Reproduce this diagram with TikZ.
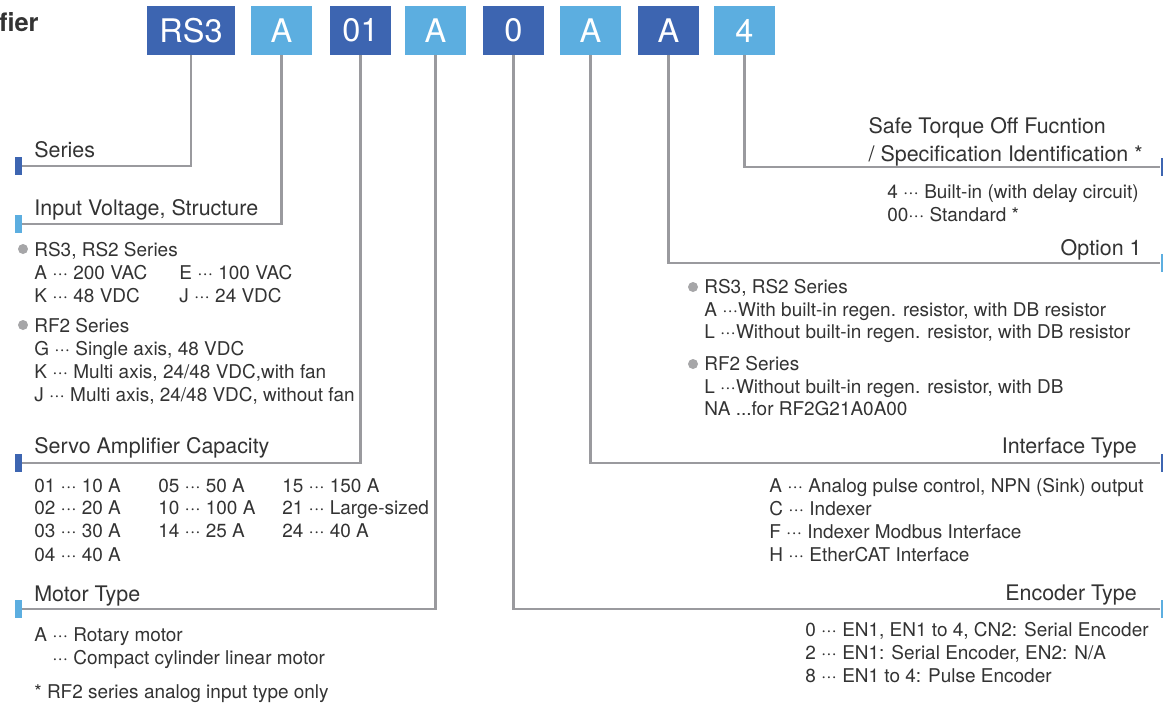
\documentclass[tikz,border=0pt]{standalone}
\usepackage{fontspec}
\setmainfont{TeX Gyre Heros}
\usepackage{xcolor}
\usetikzlibrary{positioning}
\definecolor{codedark}{HTML}{3D65B1}
\definecolor{codelight}{HTML}{5CAEE0}
\definecolor{linegray}{HTML}{9A9A9E}
\definecolor{txtgray}{HTML}{333333}
\definecolor{dotgray}{HTML}{A6A6A8}

\begin{document}
\begin{tikzpicture}[x=0.02cm,y=-0.02cm,
  code/.style={minimum width=1.22cm,minimum height=0.98cm,inner sep=0pt,text=white,font=\fontsize{18.5}{20}\selectfont},
  dk/.style={code,fill=codedark},
  lt/.style={code,fill=codelight},
  tagd/.style={fill=codedark,minimum width=0.14cm,minimum height=0.36cm,inner sep=0pt},
  tagl/.style={tagd,fill=codelight},
  conn/.style={draw=linegray,line width=1.4pt},
  hd/.style={font=\fontsize{12.2}{14}\selectfont,text=txtgray,inner sep=0pt},
  item/.style={font=\fontsize{10.8}{12}\selectfont,text=txtgray,inner sep=0pt,anchor=base west},
  dot/.style={circle,fill=dotgray,minimum size=0.2cm,inner sep=0pt}]
  \fill[white] (0,0) rectangle (1163,711);
  \useasboundingbox (0,0) rectangle (1163,711);
  % title tail
  \node[anchor=base east,inner sep=0pt,font=\fontsize{14.5}{18}\selectfont\bfseries,text=txtgray] (ttl) at (39,31) {fier};
  % code boxes
  \node[dk,minimum width=1.76cm] (rs) at (191,30.5) {RS3};
  \node[lt] (volt) at (281.5,30.5) {A};
  \node[dk] (cap) at (360.5,30.5) {01};
  \node[lt] (mot) at (435.5,30.5) {A};
  \node[dk] (enc) at (513.5,30.5) {0};
  \node[lt] (ifc) at (590.5,30.5) {A};
  \node[dk] (opt) at (668.5,30.5) {A};
  \node[lt] (sto) at (744.5,30.5) {4};
  % end tags
  \node[tagd] (tSer) at (18.5,166) {};
  \node[tagl] (tVolt) at (18.5,224) {};
  \node[tagd] (tCap) at (18.5,463) {};
  \node[tagl] (tMot) at (18.5,609) {};
  \node[tagd] (tSto) at (1164,167) {};
  \node[tagl] (tOpt) at (1164,263) {};
  \node[tagd] (tIfc) at (1164,463) {};
  \node[tagl] (tEnc) at (1164,609) {};
  \draw[conn] (rs.south) |- (tSer.east);
  \draw[conn] (volt.south) |- (tVolt.east);
  \draw[conn] (cap.south) |- (tCap.east);
  \draw[conn] (mot.south) |- (tMot.east);
  \draw[conn] (enc.south) |- (tEnc.west);
  \draw[conn] (ifc.south) |- (tIfc.west);
  \draw[conn] (opt.south) |- (tOpt.west);
  \draw[conn] (sto.south) |- (tSto.west);
  % left headings
  \node[hd,anchor=base west] (hSer) at (34,157) {Series};
  \node[hd,anchor=base west] (hVolt) at (34,215) {Input Voltage, Structure};
  \node[hd,anchor=base west] (hCap) at (34,453) {Servo Amplifier Capacity};
  \node[hd,anchor=base west] (hMot) at (34,601) {Motor Type};
  % right headings
  \node[hd,anchor=base east] (hSto2) at (1143,161) {/ Specification Identification *};
  \node[hd,anchor=base west] (hSto1) at ([yshift=0.56cm]hSto2.base west) {Safe Torque Off Fucntion};
  \node[hd,anchor=base east] (hOpt) at (1142,255) {Option 1};
  \node[hd,anchor=base east] (hIfc) at (1137,453) {Interface Type};
  \node[hd,anchor=base east] (hEnc) at (1137,600) {Encoder Type};
  % input voltage
  \node[dot] (dv1) at (23,249) {};
  \node[item] (v1) at (34,256) {RS3, RS2 Series};
  \node[item] (v2) at (34,279) {A ··· 200 VAC};
  \node[item] (v3) at (179,279) {E ··· 100 VAC};
  \node[item] (v4) at (34,302) {K ··· 48 VDC};
  \node[item] (v5) at (179,302) {J ··· 24 VDC};
  \node[dot] (dv2) at (23,325) {};
  \node[item] (v6) at (34,332) {RF2 Series};
  \node[item] (v7) at (34,355) {G ··· Single axis, 48 VDC};
  \node[item] (v8) at (34,378) {K ··· Multi axis, 24/48 VDC,with fan};
  \node[item] (v9) at (34,401) {J ··· Multi axis, 24/48 VDC, without fan};
  % capacity
  \node[item] (c1) at (34,492) {01 ··· 10 A};
  \node[item] (c2) at (34,514) {02 ··· 20 A};
  \node[item] (c3) at (34,537) {03 ··· 30 A};
  \node[item] (c4) at (34,561) {04 ··· 40 A};
  \node[item] (c5) at (158,492) {05 ··· 50 A};
  \node[item] (c6) at (158,514) {10 ··· 100 A};
  \node[item] (c7) at (158,537) {14 ··· 25 A};
  \node[item] (c8) at (282,492) {15 ··· 150 A};
  \node[item] (c9) at (282,514) {21 ··· Large-sized};
  \node[item] (c10) at (282,537) {24 ··· 40 A};
  % motor
  \node[item] (m1) at (34,641) {A ··· Rotary motor};
  \node[item] (m2) at (34,664) {\phantom{A }··· Compact cylinder linear motor};
  \node[item] (note) at (34,698) {* RF2 series analog input type only};
  % safe torque off
  \node[item] (s1) at (887,198) {4 ··· Built-in (with delay circuit)};
  \node[item] (s2) at (887,221) {00··· Standard *};
  % option 1
  \node[dot] (do1) at (693,287) {};
  \node[item] (o1) at (704,293) {RS3, RS2 Series};
  \node[item] (o2) at (704,316) {A ···With built-in regen. resistor, with DB resistor};
  \node[item] (o3) at (704,338) {L ···Without built-in regen. resistor, with DB resistor};
  \node[dot] (do2) at (693,364) {};
  \node[item] (o4) at (704,370) {RF2 Series};
  \node[item] (o5) at (704,393) {L ···Without built-in regen. resistor, with DB};
  \node[item] (o6) at (704,415) {NA ...for RF2G21A0A00};
  % interface
  \node[item] (i1) at (769,492) {A ··· Analog pulse control, NPN (Sink) output};
  \node[item] (i2) at (769,515) {C ··· Indexer};
  \node[item] (i3) at (769,538) {F ··· Indexer Modbus Interface};
  \node[item] (i4) at (769,561) {H ··· EtherCAT Interface};
  % encoder
  \node[item] (e1) at (805,636) {0 ··· EN1, EN1 to 4, CN2: Serial Encoder};
  \node[item] (e2) at (805,659) {2 ··· EN1: Serial Encoder, EN2: N/A};
  \node[item] (e3) at (805,682) {8 ··· EN1 to 4: Pulse Encoder};
\end{tikzpicture}
\end{document}
